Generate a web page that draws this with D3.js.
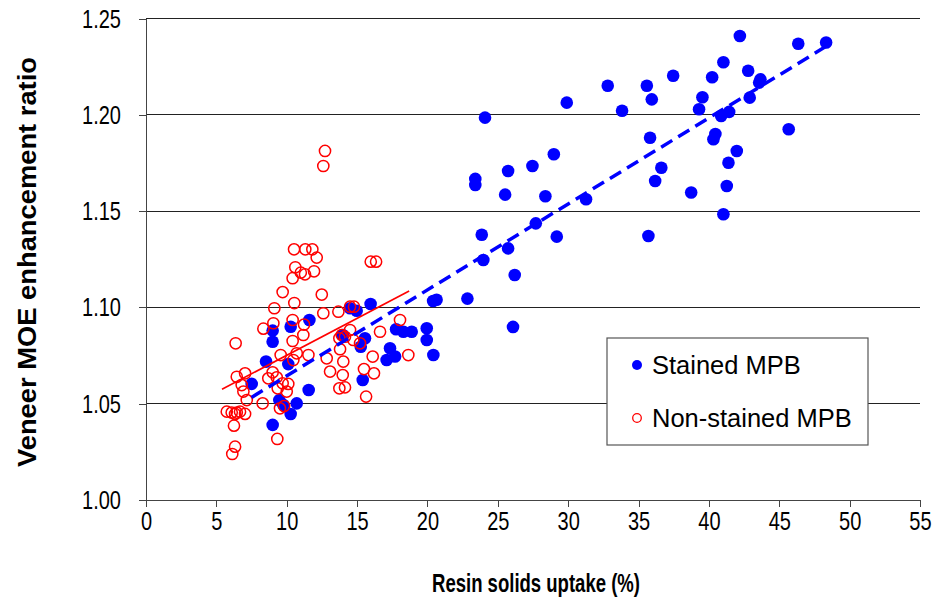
<!DOCTYPE html>
<html><head><meta charset="utf-8">
<script src="https://cdn.jsdelivr.net/npm/d3@7"></script>
<style>body{margin:0;background:#fff}svg{display:block;font-family:"Liberation Sans",Arial,sans-serif}</style>
</head><body>
<svg id="c" width="937" height="601"></svg>
<script>
const stainedX=[42.2,46.35,48.33,41.03,37.46,32.81,35.59,40.23,42.79,43.66,43.57,35.94,33.83,39.54,39.3,42.9,40.87,41.44,45.67,35.82,40.46,40.32,41.98,41.39,36.62,36.18,38.74,41.27,31.27,41.03,35.7,29.9,24.09,28.98,27.46,25.73,23.4,23.4,25.52,28.38,27.7,23.86,29.19,25.73,23.97,26.2,22.84,20.4,20.65,26.08,15.96,14.5,14.97,11.61,10.28,9.0,9.0,13.98,15.56,15.26,17.77,18.29,18.88,19.95,19.95,20.42,17.34,17.1,17.7,8.53,10.11,11.56,15.4,7.51,9.47,9.76,10.71,10.28,9.0];
const stainedY=[1.241,1.237,1.2376,1.2274,1.2204,1.2152,1.2152,1.2196,1.2230,1.2185,1.2168,1.2081,1.2022,1.2092,1.2030,1.209,1.1995,1.2016,1.1926,1.1882,1.1901,1.1874,1.1813,1.1752,1.1726,1.1657,1.1597,1.1631,1.1562,1.1484,1.1371,1.2064,1.1986,1.1796,1.1735,1.1709,1.1668,1.1636,1.1586,1.1578,1.1437,1.1378,1.1368,1.1307,1.1247,1.1169,1.1046,1.1034,1.1040,1.0899,1.1018,1.0996,1.0983,1.0935,1.09,1.088,1.0822,1.0857,1.084,1.0796,1.0887,1.0874,1.0874,1.0892,1.0831,1.0753,1.0788,1.0727,1.0745,1.0719,1.0706,1.0571,1.0623,1.0603,1.0519,1.0494,1.0502,1.0447,1.039];
const nonStainedX=[12.72,12.6,10.52,11.32,11.82,12.13,10.61,11.0,11.3,11.94,10.42,15.97,16.35,9.71,12.49,10.54,9.12,9.05,10.42,8.34,11.23,11.18,10.42,6.37,12.6,13.67,14.5,14.78,18.05,16.63,14.5,13.91,14.14,13.74,14.73,15.21,13.79,16.11,18.64,12.84,14.02,11.54,10.71,10.47,9.57,13.08,13.98,15.49,16.2,9.0,8.69,9.29,10.11,9.71,9.36,10.0,13.74,14.14,15.64,6.45,7.04,6.8,6.92,7.16,8.29,9.52,9.81,5.74,6.09,6.45,6.68,7.04,6.33,6.25,9.33,6.33,6.13];
const nonStainedY=[1.1813,1.1735,1.1302,1.1302,1.1302,1.1259,1.1209,1.1181,1.1172,1.1188,1.1152,1.1238,1.1238,1.108,1.1067,1.1023,1.0996,1.0918,1.0935,1.089,1.0911,1.0857,1.0826,1.0814,1.097,1.0978,1.1004,1.1004,1.0935,1.0874,1.0883,1.0857,1.0848,1.084,1.0831,1.0814,1.0783,1.0745,1.0753,1.0736,1.0719,1.0753,1.0762,1.0727,1.0753,1.0667,1.0649,1.068,1.0658,1.0663,1.0632,1.0637,1.0603,1.0606,1.058,1.0563,1.058,1.0585,1.0537,1.064,1.0658,1.0597,1.0563,1.0519,1.0502,1.0476,1.0488,1.0459,1.0454,1.0454,1.0459,1.0447,1.0447,1.0386,1.0317,1.0277,1.0239];
const stainedTrendX=[7.5,48.3], stainedTrendY=[1.0533,1.2355];
const nonStainedTrendX=[5.4,18.7], nonStainedTrendY=[1.0575,1.1086];
const xTicks=[0,5,10,15,20,25,30,35,40,45,50,55];
const yTicks=[1.00,1.05,1.10,1.15,1.20,1.25];
const seriesNames=["Stained MPB","Non-stained MPB"];

function squeeze(sel,f){
  sel.each(function(){
    const w=this.getComputedTextLength();
    d3.select(this).attr("textLength",w*f).attr("lengthAdjust","spacingAndGlyphs");
  });
}

const svg=d3.select("#c");
const x=d3.scaleLinear().domain([0,55]).range([146,920]);
const y=d3.scaleLinear().domain([1,1.25]).range([500,18.7]);

// gridlines
svg.append("g").selectAll("line").data(yTicks.slice(1)).join("line")
  .attr("x1",x(0)).attr("x2",x(55)).attr("y1",d=>y(d)).attr("y2",d=>y(d))
  .attr("stroke","#222").attr("stroke-width",1).attr("shape-rendering","crispEdges");

const yAxis=svg.append("g").attr("transform",`translate(${x(0)},0)`)
  .call(d3.axisLeft(y).tickValues(yTicks).tickFormat(d3.format(".2f")).tickSize(7).tickPadding(18));
const xAxis=svg.append("g").attr("transform",`translate(0,${y(1)})`)
  .call(d3.axisBottom(x).tickValues(xTicks).tickSize(7).tickPadding(5));
[yAxis,xAxis].forEach(a=>{
  a.select(".domain").attr("stroke","#444").attr("shape-rendering","crispEdges");
  a.selectAll(".tick line").attr("stroke","#444").attr("shape-rendering","crispEdges");
  a.selectAll("text").attr("font-size",26).attr("fill","#000").attr("font-family","Liberation Sans, Arial, sans-serif");
  squeeze(a.selectAll("text"),0.77);
});

// points: stained first
const stained=stainedX.map((v,i)=>[v,stainedY[i]]);
const nonStained=nonStainedX.map((v,i)=>[v,nonStainedY[i]]);
svg.append("g").selectAll("circle").data(stained).join("circle")
  .attr("cx",d=>x(d[0])).attr("cy",d=>y(d[1])).attr("r",6.3).attr("fill","#0000ff");
svg.append("g").selectAll("circle").data(nonStained).join("circle")
  .attr("cx",d=>x(d[0])).attr("cy",d=>y(d[1])).attr("r",5.6).attr("fill","none").attr("stroke","#ff0000").attr("stroke-width",1.5);

// trend lines
svg.append("line").attr("x1",x(stainedTrendX[0])).attr("y1",y(stainedTrendY[0]))
  .attr("x2",x(stainedTrendX[1])).attr("y2",y(stainedTrendY[1]))
  .attr("stroke","#0000ff").attr("stroke-width",3.5).attr("stroke-dasharray","13,7");
svg.append("line").attr("x1",x(nonStainedTrendX[0])).attr("y1",y(nonStainedTrendY[0]))
  .attr("x2",x(nonStainedTrendX[1])).attr("y2",y(nonStainedTrendY[1]))
  .attr("stroke","#ff0000").attr("stroke-width",1.6);

// legend
const lg=svg.append("g");
lg.append("rect").attr("x",607).attr("y",338).attr("width",261).attr("height",107)
  .attr("fill","#fff").attr("stroke","#555").attr("stroke-width",1.2);
lg.append("circle").attr("cx",637).attr("cy",365).attr("r",5).attr("fill","#0000ff");
lg.append("circle").attr("cx",637).attr("cy",418).attr("r",4.3).attr("fill","none").attr("stroke","#ff0000").attr("stroke-width",1.3);
lg.append("text").attr("x",652).attr("y",374).attr("font-size",26).text(seriesNames[0]);
lg.append("text").attr("x",652).attr("y",427).attr("font-size",26).text(seriesNames[1]);
squeeze(lg.selectAll("text"),0.98);

// axis titles
const xt=svg.append("text").attr("x",536).attr("y",592).attr("text-anchor","middle")
  .attr("font-size",26).attr("font-weight","bold").text("Resin solids uptake (%)");
xt.attr("textLength",208).attr("lengthAdjust","spacingAndGlyphs");
const yt=svg.append("text").attr("transform","translate(36,262) rotate(-90)").attr("text-anchor","middle")
  .attr("font-size",26).attr("font-weight","bold").text("Veneer MOE enhancement ratio");
yt.attr("textLength",410).attr("lengthAdjust","spacingAndGlyphs");
</script>
</body></html>
